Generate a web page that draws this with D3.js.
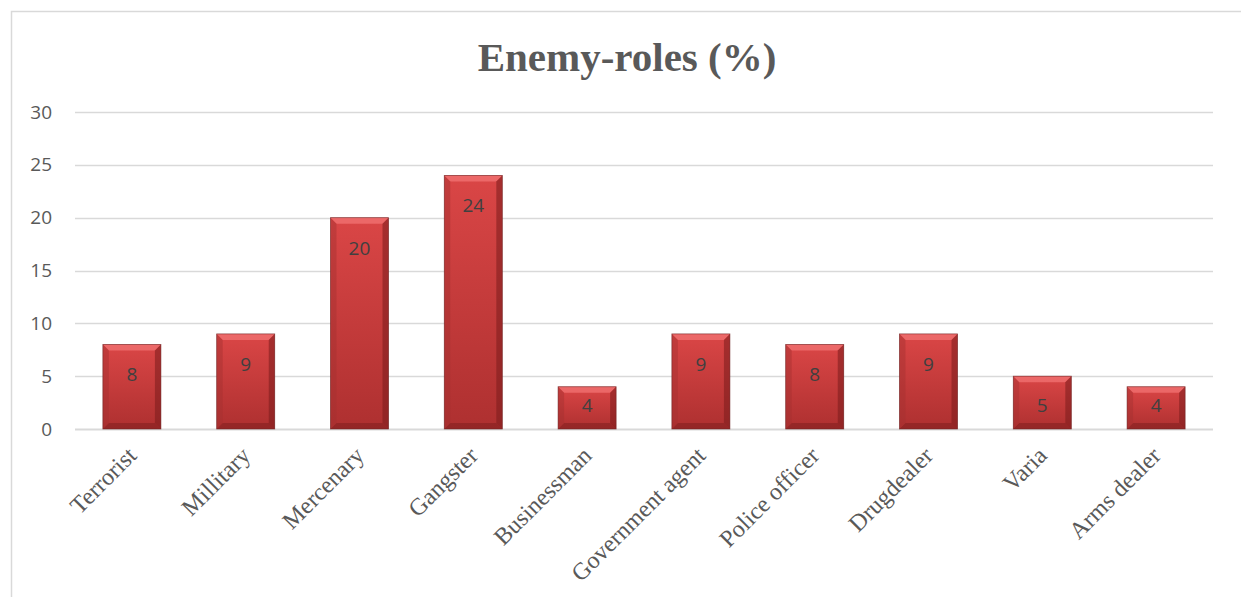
<!DOCTYPE html>
<html>
<head>
<meta charset="utf-8">
<script src="https://cdn.jsdelivr.net/npm/d3@7"></script>
<style>
  body { margin: 0; background: #fff; }
  svg { display: block; }
</style>
</head>
<body>
<svg width="1241" height="597"></svg>
<script>
var categories = ["Terrorist", "Millitary", "Mercenary", "Gangster", "Businessman",
  "Government agent", "Police officer", "Drugdealer", "Varia", "Arms dealer"];
var values = [8, 9, 20, 24, 4, 9, 8, 9, 5, 4];
var yTicks = [0, 5, 10, 15, 20, 25, 30];
var title = "Enemy-roles (%)";

var svg = d3.select("svg"),
  width = +svg.attr("width"),
  height = +svg.attr("height");

var margin = {left: 75, right: 28, top: 112, bottom: 168};

// chart frame (only top and left edges visible in the crop)
svg.append("rect")
  .attr("x", 11.5).attr("y", 11.5)
  .attr("width", 1250).attr("height", 620)
  .attr("fill", "none")
  .attr("stroke", "#d9d9d9")
  .attr("stroke-width", 1.5);

svg.append("text")
  .attr("x", 627).attr("y", 71)
  .attr("text-anchor", "middle")
  .attr("font-family", "'Liberation Serif', 'DejaVu Serif', serif")
  .attr("font-weight", "bold")
  .attr("font-size", 41)
  .attr("fill", "#595959")
  .text(title);

var x = d3.scaleBand()
  .domain(categories)
  .range([margin.left, width - margin.right])
  .paddingInner(0.49)
  .paddingOuter(0.245);

var y = d3.scaleLinear()
  .domain([0, 30])
  .range([height - margin.bottom, margin.top]);

// gridlines
svg.append("g")
  .selectAll("line")
  .data(yTicks)
  .enter().append("line")
  .attr("x1", margin.left).attr("x2", width - margin.right)
  .attr("y1", function(d) { return Math.round(y(d)) + 0.5; })
  .attr("y2", function(d) { return Math.round(y(d)) + 0.5; })
  .attr("stroke", "#d9d9d9")
  .attr("stroke-width", function(d) { return d === 0 ? 2 : 1.3; });

// y axis labels
var yAxis = d3.axisLeft(y).tickValues(yTicks).tickSize(0).tickPadding(0);
var gy = svg.append("g")
  .attr("transform", "translate(52,0)")
  .call(yAxis);
gy.select(".domain").remove();
gy.selectAll("text")
  .attr("font-family", "'Open Sans', 'Liberation Sans', sans-serif")
  .attr("font-size", 19)
  .attr("fill", "#595959");

// bar gradient
var defs = svg.append("defs");
var grad = defs.append("linearGradient")
  .attr("id", "barGrad")
  .attr("x1", 0).attr("y1", 0).attr("x2", 0).attr("y2", 1);
grad.append("stop").attr("offset", "0%").attr("stop-color", "#da4646");
grad.append("stop").attr("offset", "100%").attr("stop-color", "#ae3030");

var bev = 6;
var bars = svg.append("g")
  .selectAll("g")
  .data(values)
  .enter().append("g")
  .attr("transform", function(d, i) { return "translate(" + x(categories[i]) + "," + y(d) + ")"; });

bars.each(function(d) {
  var g = d3.select(this);
  var w = x.bandwidth(), h = y(0) - y(d);
  g.append("rect")
    .attr("width", w).attr("height", h)
    .attr("fill", "url(#barGrad)");
  // bevel: top lighter, bottom darker, sides
  g.append("path")
    .attr("d", "M0,0L" + w + ",0L" + (w - bev) + "," + bev + "L" + bev + "," + bev + "Z")
    .attr("fill", "#f07070").attr("opacity", 0.8);
  g.append("path")
    .attr("d", "M0," + h + "L" + w + "," + h + "L" + (w - bev) + "," + (h - bev) + "L" + bev + "," + (h - bev) + "Z")
    .attr("fill", "#7f1f1f").attr("opacity", 0.55);
  g.append("path")
    .attr("d", "M0,0L" + bev + "," + bev + "L" + bev + "," + (h - bev) + "L0," + h + "Z")
    .attr("fill", "#a33030").attr("opacity", 0.45);
  g.append("path")
    .attr("d", "M" + w + ",0L" + (w - bev) + "," + bev + "L" + (w - bev) + "," + (h - bev) + "L" + w + "," + h + "Z")
    .attr("fill", "#7a1c1c").attr("opacity", 0.55);
  g.append("rect")
    .attr("width", w).attr("height", h)
    .attr("fill", "none")
    .attr("stroke", "#6e2525").attr("stroke-width", 0.8).attr("stroke-opacity", 0.7);
  g.append("text")
    .attr("x", w / 2).attr("y", Math.min(37, h - 17))
    .attr("text-anchor", "middle")
    .attr("font-family", "'Open Sans', 'Liberation Sans', sans-serif")
    .attr("font-size", 19)
    .attr("fill", "#404040")
    .text(d);
});

// category labels
var xAxis = d3.axisBottom(x).tickSize(0).tickPadding(0);
var gx = svg.append("g")
  .attr("transform", "translate(0," + y(0) + ")")
  .call(xAxis);
gx.select(".domain").remove();
gx.selectAll("text")
  .attr("font-family", "'Liberation Serif', 'DejaVu Serif', serif")
  .attr("font-size", 24)
  .attr("fill", "#595959")
  .attr("text-anchor", "end")
  .attr("dy", null)
  .attr("transform", "translate(6,28) rotate(-45)");
</script>
</body>
</html>
